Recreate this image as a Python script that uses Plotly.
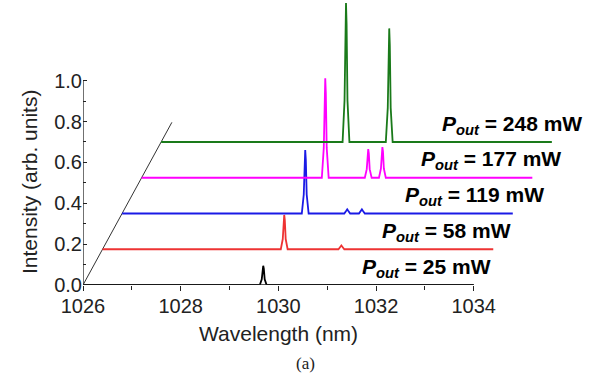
import plotly.graph_objects as go

# ---- data (true wavelengths in nm, intensities in arb. units) ----
POWERS_MW = [25, 58, 119, 177, 248]
COLORS = ["#000000", "#ee3333", "#1a1ae6", "#ff00ff", "#1a7a1a"]

WL_25 = [1026.0, 1029.62, 1029.66, 1029.678, 1029.69, 1029.702, 1029.72, 1029.76, 1034.0]
I_25 = [0, 0, 0.028, 0.080, 0.094, 0.080, 0.028, 0, 0]

WL_58 = [1026.0, 1029.65, 1029.69, 1029.708, 1029.72, 1029.732, 1029.75, 1029.79,
         1030.83, 1030.87, 1030.89, 1030.91, 1030.95, 1034.0]
I_58 = [0, 0, 0.05, 0.143, 0.168, 0.143, 0.05, 0,
        0, 0.012, 0.018, 0.012, 0, 0]

WL_119 = [1026.0, 1029.68, 1029.72, 1029.738, 1029.75, 1029.762, 1029.78, 1029.82,
          1030.55, 1030.59, 1030.61, 1030.63, 1030.67,
          1030.85, 1030.89, 1030.91, 1030.93, 1030.97, 1034.0]
I_119 = [0, 0, 0.093, 0.264, 0.311, 0.264, 0.093, 0,
         0, 0.013, 0.02, 0.013, 0,
         0, 0.013, 0.02, 0.013, 0, 0]

WL_177 = [1026.0, 1029.69, 1029.73, 1029.748, 1029.76, 1029.772, 1029.79, 1029.83,
          1030.57, 1030.61, 1030.628, 1030.64, 1030.652, 1030.67, 1030.71,
          1030.86, 1030.90, 1030.918, 1030.93, 1030.942, 1030.96, 1031.0, 1034.0]
I_177 = [0, 0, 0.146, 0.414, 0.487, 0.414, 0.146, 0,
         0, 0.042, 0.119, 0.14, 0.119, 0.042, 0,
         0, 0.045, 0.128, 0.15, 0.128, 0.045, 0, 0]

WL_248 = [1026.0, 1029.715, 1029.755, 1029.773, 1029.785, 1029.797, 1029.815, 1029.855,
          1030.60, 1030.64, 1030.658, 1030.67, 1030.682, 1030.70, 1030.74, 1034.0]
I_248 = [0, 0, 0.204, 0.578, 0.68, 0.578, 0.204, 0,
         0, 0.167, 0.473, 0.556, 0.473, 0.167, 0, 0]

SPECTRA_WL = [WL_25, WL_58, WL_119, WL_177, WL_248]
SPECTRA_I = [I_25, I_58, I_119, I_177, I_248]

# waterfall offsets
X_SHIFT = 0.4     # nm per trace
Y_SHIFT = 0.175   # intensity per trace
DIAG_END = 4.55   # diagonal guide length in trace steps

X_TICKS = [1026, 1028, 1030, 1032, 1034]
X_MINOR = [1027, 1029, 1031, 1033]
Y_TICKS = [0.0, 0.2, 0.4, 0.6, 0.8, 1.0]
Y_MINOR = [0.1, 0.3, 0.5, 0.7, 0.9]

# label layout (right edge in displayed wavelength)
LABEL_RIGHT_X = [1034.39, 1034.80, 1035.49, 1035.82, 1036.25]
LABEL_DY = 0.09

FONT = "Liberation Sans, Arial, sans-serif"
AX = "#222222"

fig = go.Figure()

# diagonal guide
fig.add_trace(go.Scatter(
    x=[X_TICKS[0], X_TICKS[0] + DIAG_END * X_SHIFT],
    y=[0, DIAG_END * Y_SHIFT],
    mode="lines", line=dict(color="#333333", width=1), hoverinfo="skip", showlegend=False))

for i, (wl, inten) in enumerate(zip(SPECTRA_WL, SPECTRA_I)):
    fig.add_trace(go.Scatter(
        x=[w + i * X_SHIFT for w in wl],
        y=[v + i * Y_SHIFT for v in inten],
        mode="lines", line=dict(color=COLORS[i], width=1.8),
        showlegend=False, name=f"{POWERS_MW[i]} mW"))

# axis lines (limited spans)
fig.add_shape(type="line", xref="x", yref="y", x0=X_TICKS[0], x1=X_TICKS[-1], y0=0, y1=0,
              line=dict(color=AX, width=1.3))
fig.add_shape(type="line", xref="x", yref="y", x0=X_TICKS[0], x1=X_TICKS[0], y0=0, y1=Y_TICKS[-1],
              line=dict(color=AX, width=1.3))

for i, p in enumerate(POWERS_MW):
    fig.add_annotation(
        x=LABEL_RIGHT_X[i], y=i * Y_SHIFT + LABEL_DY, xref="x", yref="y",
        xanchor="right", yanchor="middle", showarrow=False, yshift=-1,
        text=f"<b><i>P</i></b><sub><b><i>out</i></b></sub><b> = {p} mW</b>",
        font=dict(family=FONT, size=21, color="#000000"))

fig.add_annotation(text="Wavelength (nm)", xref="paper", yref="paper",
                   x=(278 - 83) / 517, y=(285 - 333) / 285, xanchor="center", yanchor="middle",
                   showarrow=False, font=dict(family=FONT, size=21, color=AX))
fig.add_annotation(text="Intensity (arb. units)", xref="paper", yref="paper", textangle=-90,
                   x=(29 - 83) / 517, y=(285 - 182) / 285, xanchor="center", yanchor="middle",
                   showarrow=False, font=dict(family=FONT, size=21, color=AX))
fig.add_annotation(text="(a)", xref="paper", yref="paper",
                   x=(305 - 83) / 517, y=(285 - 363) / 285, xanchor="center", yanchor="middle",
                   showarrow=False, font=dict(family="Liberation Serif, Times New Roman, serif", size=17, color=AX))

fig.update_layout(
    width=607, height=378,
    margin=dict(l=83, r=7, t=0, b=93),
    paper_bgcolor="white", plot_bgcolor="white",
    xaxis=dict(range=[1026, 1026 + 517 / 48.84], showline=False, showgrid=False, zeroline=False,
               ticks="outside", ticklen=5, tickwidth=1.3, tickcolor=AX, ticklabelstandoff=-2,
               tickmode="array", tickvals=X_TICKS, ticktext=[str(t) for t in X_TICKS],
               minor=dict(tickmode="array", tickvals=X_MINOR, ticks="outside", ticklen=4,
                          tickwidth=1.3, tickcolor=AX),
               tickfont=dict(family=FONT, size=20, color=AX)),
    yaxis=dict(range=[0, 285 / 204.3], showline=False, showgrid=False, zeroline=False,
               ticks="inside", ticklen=4, tickwidth=1.3, tickcolor=AX,
               tickmode="array", tickvals=Y_TICKS, ticktext=[f"{t:.1f}" for t in Y_TICKS],
               minor=dict(tickmode="array", tickvals=Y_MINOR, ticks="inside", ticklen=3,
                          tickwidth=1.3, tickcolor=AX),
               tickfont=dict(family=FONT, size=20, color=AX)),
)

fig.write_html("out.html")
